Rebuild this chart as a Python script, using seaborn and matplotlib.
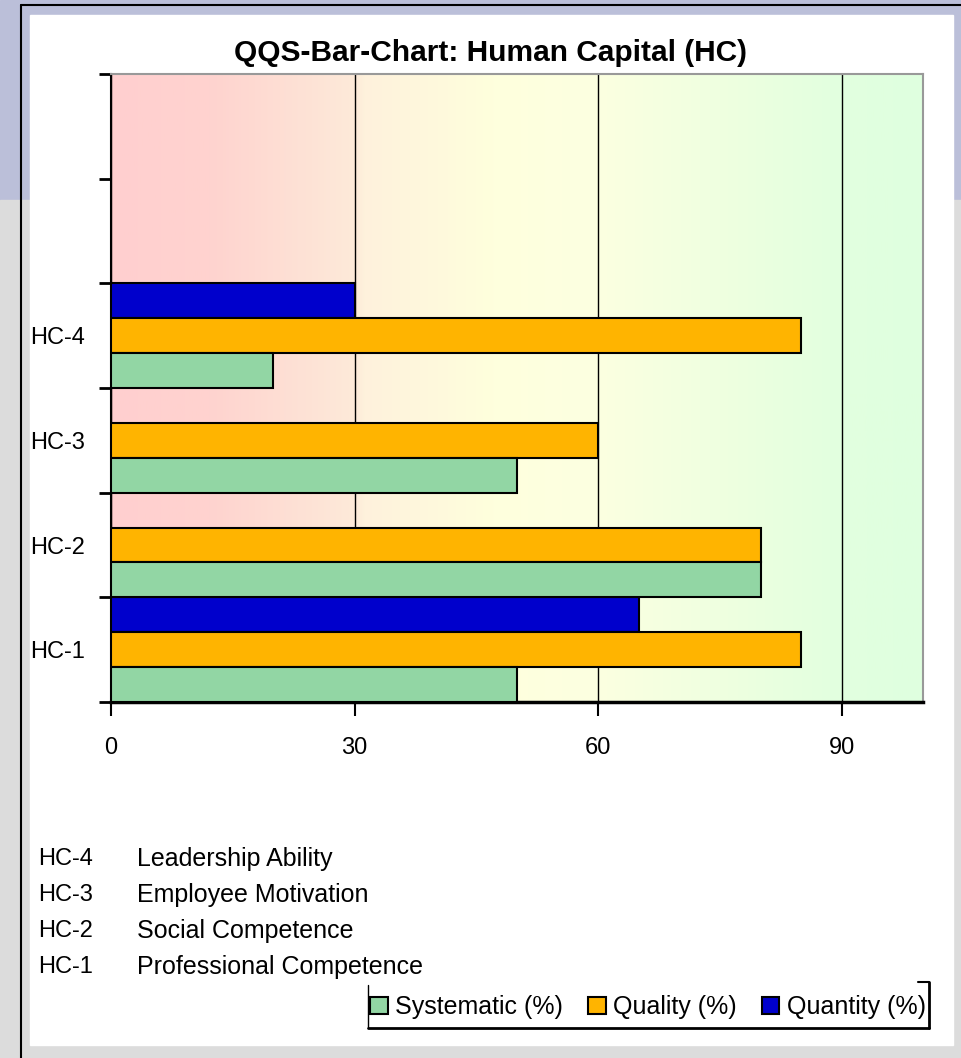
import numpy as np
import pandas as pd
import matplotlib
matplotlib.use("Agg")
import matplotlib.pyplot as plt
import seaborn as sns
from matplotlib.colors import LinearSegmentedColormap
from matplotlib.patches import Rectangle, Patch
from matplotlib.lines import Line2D

# data
codes = ["HC-4", "HC-3", "HC-2", "HC-1"]
descriptions = ["Leadership Ability", "Employee Motivation", "Social Competence", "Professional Competence"]
systematic = [20, 50, 80, 50]
quality = [85, 60, 80, 85]
quantity = [30, 0, 0, 65]
series_names = ["Systematic (%)", "Quality (%)", "Quantity (%)"]
series_colors = ["#92D6A4", "#FFB400", "#0000CC"]
x_ticks = [0, 30, 60, 90]
title = "QQS-Bar-Chart: Human Capital (HC)"

W, H = 962, 1058


def fx(x):
    return x / W


def fy(y):
    return 1 - y / H


df = pd.DataFrame({"code": codes, series_names[0]: systematic,
                   series_names[1]: quality, series_names[2]: quantity})
df = df.melt(id_vars="code", var_name="series", value_name="value")

sns.set_style("white")
plt.rcParams["font.family"] = ["Liberation Sans", "DejaVu Sans"]
plt.rcParams["text.color"] = "black"
plt.rcParams["xtick.color"] = "black"
plt.rcParams["ytick.color"] = "black"
plt.rcParams["xtick.labelcolor"] = "black"
plt.rcParams["ytick.labelcolor"] = "black"

fig = plt.figure(figsize=(W / 100, H / 100), dpi=100)

# slide background + white chart panel
fig.add_artist(Rectangle((0, fy(200)), 1, 200 / H, transform=fig.transFigure,
                         color="#BBBFD9", zorder=-10))
fig.add_artist(Rectangle((0, 0), 1, fy(200), transform=fig.transFigure,
                         color="#DCDCDC", zorder=-10))
fig.add_artist(Rectangle((fx(30), fy(1045)), (953 - 30) / W, (1045 - 15) / H,
                         transform=fig.transFigure, color="white", zorder=-9))
fig.add_artist(Line2D([fx(21), fx(21)], [0, fy(5)], transform=fig.transFigure,
                      color="black", lw=1.5, zorder=-8))
fig.add_artist(Line2D([fx(21), 1], [fy(5), fy(5)], transform=fig.transFigure,
                      color="black", lw=1.5, zorder=-8))

ax = fig.add_axes([fx(111), fy(702), (923 - 111) / W, (702 - 74) / H])

palette = dict(zip(series_names, series_colors))
sns.barplot(data=df, x="value", y="code", hue="series",
            hue_order=[series_names[2], series_names[1], series_names[0]],
            order=codes, palette=palette, saturation=1, orient="h", width=1.0, gap=0,
            edgecolor="black", linewidth=1.5, errorbar=None, legend=False,
            ax=ax, zorder=3)

# red -> yellow -> green band background
cmap = LinearSegmentedColormap.from_list("band", [
    (0.0, "#FFCFCF"), (0.12, "#FFD3CF"), (0.30, "#FDEAD9"), (0.31, "#FEF1DC"),
    (0.47, "#FFFFDD"), (0.60, "#FCFFE1"), (0.90, "#E2FFDF"), (1.0, "#DFFFDF")])
grad = np.linspace(0, 1, 400).reshape(1, -1)
ax.imshow(grad, cmap=cmap, extent=[0, 100, 3.5, -2.5], aspect="auto", zorder=0)

ax.set_xlim(0, 100)
ax.set_ylim(3.5, -2.5)
ax.grid(axis="x", color="black", lw=1.0)
ax.grid(axis="y", visible=False)
ax.set_axisbelow(True)

ax.set_yticks(np.arange(-2.5, 4.0, 1.0))
ax.set_yticklabels([])
ax.set_yticks(range(len(codes)), minor=True)
ax.set_yticklabels(codes, minor=True, fontsize=17)
ax.tick_params(axis="y", which="major", left=True, length=9, width=2,
               direction="out", color="black")
ax.tick_params(axis="y", which="minor", length=0, pad=19)
ax.set_xticks(x_ticks)
ax.set_xticklabels([str(v) for v in x_ticks], fontsize=17)
ax.tick_params(axis="x", bottom=True, length=10, width=1.5, direction="out",
               color="black", pad=15)
ax.set_xlabel("")
ax.set_ylabel("")

for side, col, lw in [("left", "black", 1.5), ("bottom", "black", 2.5),
                      ("top", "#999999", 1.5), ("right", "#999999", 1.5)]:
    ax.spines[side].set_visible(True)
    ax.spines[side].set_color(col)
    ax.spines[side].set_linewidth(lw)

fig.text(fx(491), fy(53), title, ha="center", va="center",
         fontsize=21.5, fontweight="bold", color="black")

for i, (c, d) in enumerate(zip(codes, descriptions)):
    y = 859 + 36 * i
    fig.text(fx(38), fy(y), c, va="center", fontsize=17, color="black")
    fig.text(fx(137), fy(y), d, va="center", fontsize=18, color="black")

handles = [Patch(facecolor=c, edgecolor="black", lw=1.5) for c in series_colors]
fig.legend(handles, series_names, loc="center", bbox_to_anchor=(fx(648), fy(1007)),
           ncol=3, frameon=False, fontsize=18, handlelength=0.7, handleheight=0.7,
           handletextpad=0.3, columnspacing=1.0, labelcolor="black")

# legend frame: thin left, heavy bottom/right, short stub at top right
for xs, ys, lw in [([368, 368], [985, 1028], 1.0), ([368, 929], [1028, 1028], 2.0),
                   ([929, 929], [982, 1028], 2.0), ([918, 929], [982, 982], 1.5)]:
    fig.add_artist(Line2D([fx(v) for v in xs], [fy(v) for v in ys],
                          transform=fig.transFigure, color="black", lw=lw))

fig.savefig("out.png", dpi=100)
